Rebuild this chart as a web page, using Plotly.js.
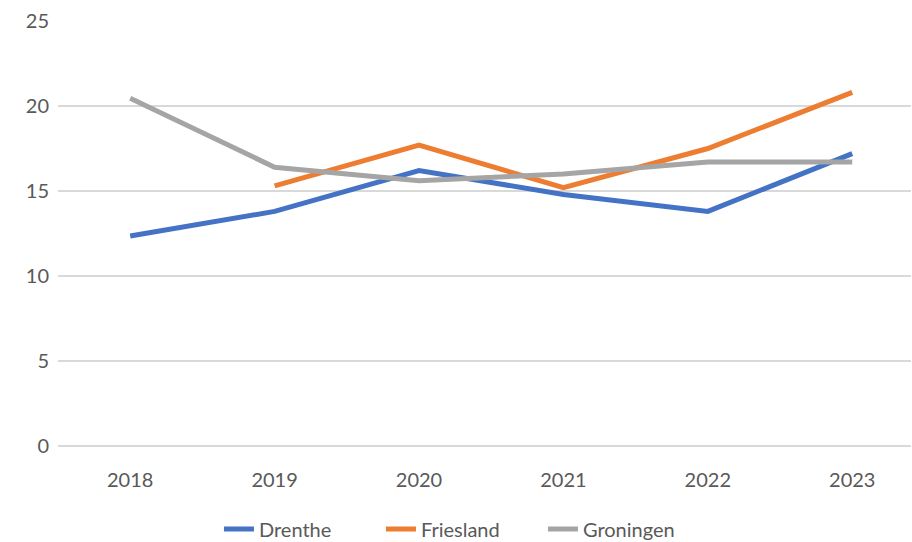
<!DOCTYPE html>
<html><head><meta charset="utf-8">
<script src="https://cdn.plot.ly/plotly-3.0.1.min.js"></script>
<style>html,body{margin:0;padding:0;background:#fff;}#chart{width:912px;height:542px;}</style>
</head><body><div id="chart"></div>
<script>
const years = ["2018","2019","2020","2021","2022","2023"];
const drenthe = [12.35, 13.8, 16.2, 14.8, 13.8, 17.2];
const friesland = [null, 15.3, 17.7, 15.2, 17.5, 20.8];
const groningen = [20.45, 16.4, 15.6, 16.0, 16.7, 16.7];
const seriesNames = ["Drenthe","Friesland","Groningen"];
const colors = ["#4472C4","#ED7D31","#A5A5A5"];
const allData = [drenthe, friesland, groningen];

const traces = allData.map((d,i)=>({
  x: years, y: d, name: seriesNames[i], type: "scatter", mode: "lines",
  line: {color: colors[i], width: 5}, connectgaps: false
}));
const font = {family: "Lato, 'Open Sans', sans-serif", size: 20, color: "#595959"};
Plotly.newPlot("chart", traces, {
  width: 912, height: 542,
  margin: {l: 58, r: 1, t: 21, b: 96, autoexpand: false},
  paper_bgcolor: "#fff", plot_bgcolor: "#fff",
  font: font,
  showlegend: true,
  legend: {orientation: "h", x: 0.1887, xanchor: "left", yref: "container", y: 0.024, yanchor: "middle", font: font, entrywidth: 117, entrywidthmode: "pixels", tracegroupgap: 0},
  xaxis: {type: "category", range: [-0.5, 5.407], automargin: false, showgrid: false, zeroline: false, showline: false, ticks: "", tickfont: font, ticklabelstandoff: 20, fixedrange: true},
  yaxis: {range: [0, 25], dtick: 5, automargin: false, showgrid: true, gridcolor: "#D9D9D9", gridwidth: 1.5, zeroline: true, zerolinecolor: "#D9D9D9", zerolinewidth: 1.5, showline: false, ticks: "", tickfont: font, ticklabelstandoff: 8}
}, {displayModeBar: false, staticPlot: true});
</script></body></html>
